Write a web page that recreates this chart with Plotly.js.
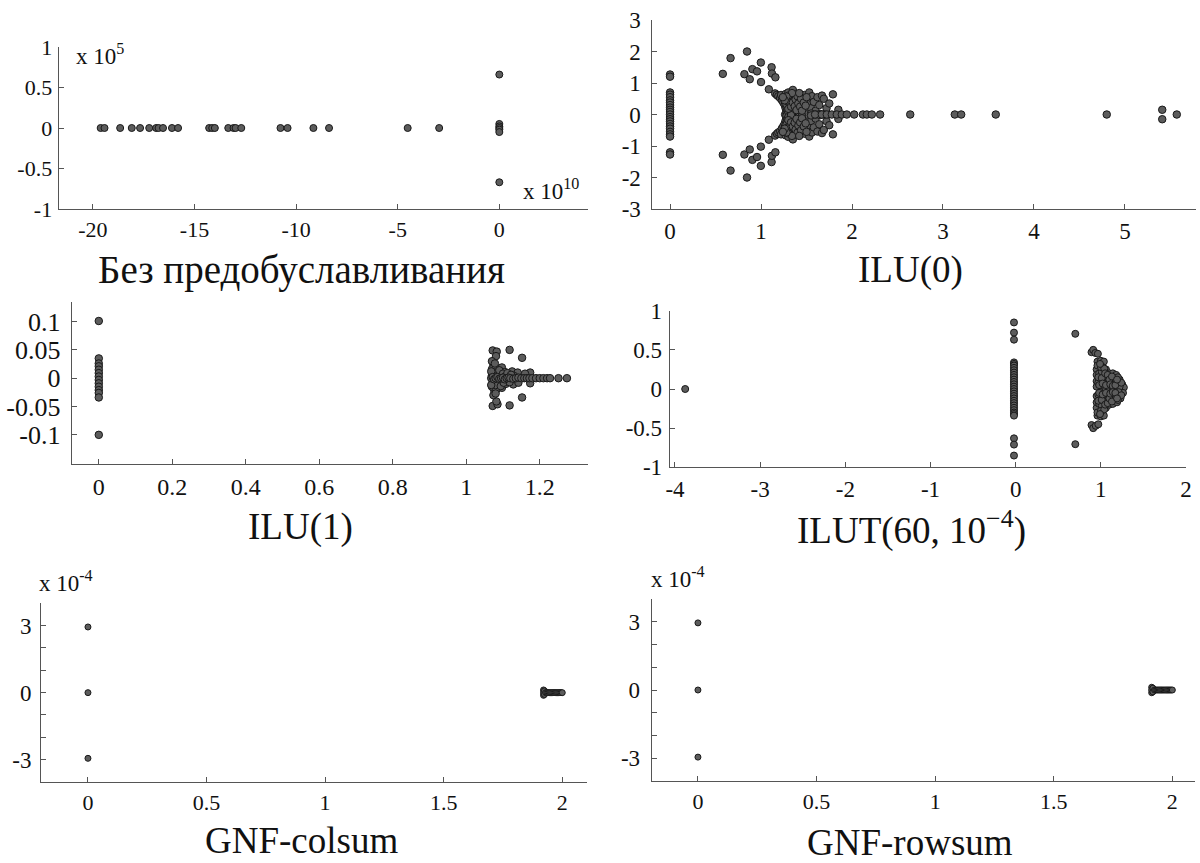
<!DOCTYPE html>
<html>
<head>
<meta charset="utf-8">
<script src="https://cdn.plot.ly/plotly-3.0.1.min.js"></script>
<style>html,body{margin:0;padding:0;background:#fff;}#chart{width:1200px;height:863px;}</style>
</head>
<body>
<div id="chart"></div>
<script>
// ---------- DATA (eigenvalue spectra: [Re, Im]) ----------
// Panel 1: no preconditioning (Re in units of 1e10, Im in units of 1e5)
const noPrecReal = [-19.62,-19.43,-18.66,-18.09,-17.68,-17.23,-16.89,-16.77,-16.55,-16.11,-15.81,-14.28,-14.13,-14.0,-13.34,-13.08,-12.98,-12.70,-10.77,-10.42,-9.15,-8.38,-4.51,-2.96,0,0,0,0,0,0,0];
const noPrecImag = [0,0,0,0,0,0,0,0,0,0,0,0,0,0,0,0,0,0,0,0,0,0,0,0,0.66,0.05,0.02,0,-0.02,-0.05,-0.67];

// Panel 2: ILU(0)
const ilu0Column = [[0,1.27],[0,1.2],[0,0.7],[0,0.63],[0,0.55],[0,0.45],[0,0.38],[0,0.3],[0,0.22],[0,0.15],[0,0.08],[0,0],[0,-0.08],[0,-0.15],[0,-0.22],[0,-0.3],[0,-0.38],[0,-0.45],[0,-0.55],[0,-0.63],[0,-0.7],[0,-1.2],[0,-1.27]];
const ilu0Wings = [[0.58,1.29],[0.665,1.79],[0.846,2.0],[0.817,1.28],[0.876,1.12],[0.905,1.44],[0.956,1.37],[0.998,1.65],[1.0,1.03],[1.116,1.5],[1.12,1.3],[1.158,1.18],[1.086,0.8],
  [0.58,-1.28],[0.665,-1.78],[0.846,-2.0],[0.817,-1.27],[0.876,-1.11],[0.905,-1.44],[0.956,-1.35],[0.998,-1.63],[0.998,-1.02],[1.116,-1.51],[1.12,-1.31],[1.158,-1.2],[1.086,-0.8]];
const ilu0Cluster = [[1.155,0.67],[1.173,0.62],[1.19,0.58],[1.21,0.52],[1.22,0.62],[1.23,0.45],[1.245,0.38],[1.25,0.55],[1.26,0.3],[1.27,0.2],[1.27,0.65],[1.28,0.1],[1.29,0.5],[1.3,0.35],[1.3,0.7],[1.31,0.22],[1.32,0.6],[1.33,0.12],[1.33,0.45],[1.34,0.3],[1.35,0.78],[1.35,0.55],[1.36,0.2],[1.37,0.4],[1.38,0.65],[1.38,0.08],[1.4,0.28],[1.41,0.5],[1.42,0.15],[1.43,0.6],[1.44,0.35],[1.46,0.45],[1.47,0.22],[1.48,0.62],[1.5,0.1],[1.51,0.5],[1.52,0.32],[1.53,0.7],[1.55,0.2],[1.56,0.58],[1.58,0.4],[1.6,0.12],[1.62,0.55],[1.64,0.3],[1.67,0.6],[1.69,0.5],[1.72,0.2],[1.79,0.64],[1.75,0.35],[1.85,0.15],
  [1.155,-0.67],[1.175,-0.61],[1.19,-0.57],[1.21,-0.53],[1.22,-0.63],[1.23,-0.44],[1.245,-0.37],[1.25,-0.56],[1.26,-0.29],[1.27,-0.19],[1.27,-0.66],[1.28,-0.11],[1.29,-0.49],[1.3,-0.34],[1.3,-0.71],[1.31,-0.23],[1.32,-0.59],[1.33,-0.13],[1.33,-0.46],[1.34,-0.31],[1.35,-0.79],[1.35,-0.54],[1.36,-0.21],[1.37,-0.41],[1.38,-0.64],[1.38,-0.07],[1.4,-0.27],[1.41,-0.51],[1.42,-0.16],[1.43,-0.61],[1.44,-0.34],[1.46,-0.46],[1.47,-0.23],[1.48,-0.61],[1.5,-0.11],[1.51,-0.49],[1.52,-0.33],[1.53,-0.7],[1.55,-0.21],[1.56,-0.57],[1.58,-0.41],[1.6,-0.13],[1.62,-0.54],[1.64,-0.31],[1.67,-0.59],[1.69,-0.49],[1.72,-0.21],[1.79,-0.63],[1.75,-0.34],[1.85,-0.14],
  [1.265,0],[1.28,0.04],[1.3,0],[1.32,0.05],[1.35,0],[1.38,0.03],[1.4,0],[1.45,0.04],[1.5,0],[1.55,0.03],[1.6,0],[1.65,0.02],[1.7,0],[1.28,-0.04],[1.32,-0.05],[1.38,-0.03],[1.45,-0.04],[1.55,-0.03],[1.65,-0.02],
  [1.28,0.25],[1.29,0.15],[1.31,0.4],[1.32,0.28],[1.34,0.18],[1.36,0.1],[1.37,0.5],[1.39,0.36],[1.4,0.2],[1.42,0.42],[1.3,0.08],[1.33,0.02],[1.36,0.33],
  [1.28,-0.25],[1.29,-0.15],[1.31,-0.4],[1.32,-0.28],[1.34,-0.18],[1.36,-0.1],[1.37,-0.5],[1.39,-0.36],[1.4,-0.2],[1.42,-0.42],[1.3,-0.08],[1.33,-0.02],[1.36,-0.33],
  [1.28,0.32],[1.29,0.42],[1.3,0.18],[1.31,0.55],[1.32,0.38],[1.33,0.25],[1.34,0.52],[1.35,0.38],[1.36,0.62],[1.37,0.26],[1.38,0.48],[1.39,0.14],[1.4,0.58],[1.41,0.35],[1.43,0.25],[1.44,0.5],[1.45,0.12],[1.47,0.38],[1.49,0.28],[1.5,0.55],[1.3,0.6],[1.34,0.68],[1.28,0.57],[1.26,0.45],[1.24,0.55],[1.42,0.68],
  [1.28,-0.32],[1.29,-0.42],[1.3,-0.18],[1.31,-0.55],[1.32,-0.38],[1.33,-0.25],[1.34,-0.52],[1.35,-0.38],[1.36,-0.62],[1.37,-0.26],[1.38,-0.48],[1.39,-0.14],[1.4,-0.58],[1.41,-0.35],[1.43,-0.25],[1.44,-0.5],[1.45,-0.12],[1.47,-0.38],[1.49,-0.28],[1.5,-0.55],[1.3,-0.6],[1.34,-0.68],[1.28,-0.57],[1.26,-0.45],[1.24,-0.55],[1.42,-0.68]];
const ilu0Tail = [[1.594,0],[1.668,0],[1.723,0],[1.778,0],[1.833,0],[1.888,0],[1.943,0],[2.024,0],[2.12,0],[2.163,0],[2.218,0],[2.309,0],[2.64,0],[3.13,0],[3.2,0],[3.58,0],[4.8,0],[5.41,0.15],[5.41,-0.15],[5.57,0]];

// Panel 3: ILU(1)
const ilu1Column = [[0,0.101],[0,0.035],[0,0.026],[0,0.021],[0,0.015],[0,0.009],[0,0.003],[0,-0.003],[0,-0.009],[0,-0.015],[0,-0.021],[0,-0.026],[0,-0.034],[0,-0.1]];
const ilu1Cluster = [[1.072,0.049],[1.083,0.047],[1.081,0.039],[1.118,0.05],[1.152,0.036],[1.074,0.023],[1.097,0.019],[1.174,0.01],[1.085,0.012],[1.105,0.011],[1.125,0.012],[1.14,0.01],[1.16,0.008],[1.075,0.008],[1.09,0.006],[1.11,0.005],[1.13,0.004],[1.07,0.016],[1.08,0.018],
  [1.072,-0.049],[1.085,-0.046],[1.082,-0.041],[1.118,-0.048],[1.152,-0.034],[1.076,-0.021],[1.097,-0.017],[1.174,-0.009],[1.088,-0.012],[1.108,-0.01],[1.128,-0.011],[1.142,-0.008],[1.075,-0.009],[1.093,-0.006],[1.115,-0.004],[1.07,-0.015],[1.082,-0.02],
  [1.07,0.005],[1.072,-0.006],[1.078,0.01],[1.08,-0.012],[1.086,0.004],[1.09,0.014],[1.094,-0.014],[1.1,0.008],[1.102,-0.008],[1.106,0.003],[1.112,0.009],[1.118,-0.007],[1.122,0.006],[1.07,0.03],[1.074,-0.03],[1.078,0.026],[1.08,-0.027],[1.068,0.012],[1.068,-0.012]];
const ilu1Tail = [[1.068,0],[1.072,0.002],[1.076,-0.002],[1.08,0],[1.085,0.002],[1.09,-0.001],[1.095,0],[1.1,0.001],[1.105,-0.002],[1.11,0],[1.115,0.001],[1.12,0],[1.128,-0.001],[1.135,0],[1.142,0.001],[1.15,0],[1.158,0],[1.165,0],[1.172,0],[1.18,0],[1.19,0],[1.2,0],[1.21,0],[1.22,0],[1.228,0],[1.251,0],[1.274,0]];

// Panel 4: ILUT(60, 1e-4)
const ilutOutliers = [[-3.88,0],[0.70,0.705],[0.70,-0.705]];
const ilutColumn = [[-0.02,0.85],[-0.02,0.72],[-0.02,0.63],[-0.02,0.34],[-0.02,0.32],[-0.02,0.3],[-0.02,0.27],[-0.02,0.24],[-0.02,0.21],[-0.02,0.18],[-0.02,0.15],[-0.02,0.12],[-0.02,0.09],[-0.02,0.06],[-0.02,0.03],[-0.02,0],[-0.02,-0.03],[-0.02,-0.06],[-0.02,-0.09],[-0.02,-0.12],[-0.02,-0.15],[-0.02,-0.18],[-0.02,-0.21],[-0.02,-0.24],[-0.02,-0.27],[-0.02,-0.3],[-0.02,-0.32],[-0.02,-0.34],[-0.02,-0.63],[-0.02,-0.71],[-0.02,-0.85]];
const ilutCluster = [[0.89,0.47],[0.91,0.5],[0.935,0.46],[0.965,0.45],[0.96,0.35],[1.0,0.36],[1.035,0.35],[0.98,0.3],[1.02,0.28],[1.06,0.25],[1.1,0.2],[1.14,0.2],[1.18,0.18],[1.22,0.12],[1.25,0.06],[1.27,0.02],[0.95,0.25],[0.95,0.18],[0.95,0.1],[0.95,0.03],[0.98,0.2],[0.99,0.12],[1.0,0.05],[1.03,0.18],[1.05,0.1],[1.07,0.15],[1.08,0.05],[1.12,0.12],[1.15,0.08],[1.18,0.1],[1.2,0.05],[1.22,0.03],[1.1,0.02],[1.04,0.02],[1.16,0.14],[1.2,0.15],[1.09,0.1],[1.01,0.22],[0.97,0.08],
  [0.89,-0.46],[0.91,-0.5],[0.94,-0.47],[0.97,-0.45],[0.96,-0.34],[1.0,-0.35],[1.035,-0.34],[0.98,-0.29],[1.02,-0.27],[1.06,-0.24],[1.1,-0.2],[1.14,-0.19],[1.19,-0.17],[1.23,-0.12],[1.26,-0.05],[0.95,-0.24],[0.95,-0.17],[0.95,-0.09],[0.98,-0.19],[0.99,-0.11],[1.0,-0.04],[1.03,-0.17],[1.05,-0.09],[1.07,-0.14],[1.08,-0.04],[1.12,-0.11],[1.15,-0.07],[1.18,-0.09],[1.21,-0.04],[1.13,-0.02],[1.06,-0.01],[1.16,-0.13],[1.2,-0.14],[1.09,-0.1],[1.01,-0.21],[0.97,-0.07],
  [0.96,0.3],[0.97,0.15],[0.98,0.05],[1.0,0.28],[1.01,0.14],[1.02,0.07],[1.04,0.26],[1.05,0.2],[1.06,0.05],[1.08,0.18],[1.1,0.12],[1.11,0.06],[1.13,0.16],[1.14,0.04],[1.17,0.05],[1.24,0.08],[1.19,0.12],[0.99,0.32],
  [0.96,-0.3],[0.97,-0.15],[0.98,-0.05],[1.0,-0.28],[1.01,-0.14],[1.02,-0.07],[1.04,-0.26],[1.05,-0.2],[1.06,-0.05],[1.08,-0.18],[1.1,-0.12],[1.11,-0.06],[1.13,-0.16],[1.14,-0.04],[1.17,-0.05],[1.24,-0.08],[1.19,-0.12],[0.99,-0.32]];

// Panel 5: GNF-colsum (Im in units of 1e-4)
const colsumPoints = [[0,2.94],[0,0],[0,-2.94],[1.921,0.12],[1.921,-0.12],[1.921,0],[1.925,0.08],[1.925,-0.08],[1.93,0],[1.935,0],[1.94,0],[1.945,0],[1.95,0],[1.955,0],[1.96,0],[1.965,0],[1.97,0],[1.975,0],[1.98,0],[1.985,0],[1.99,0],[1.995,0],[2.0,0]];
// Panel 6: GNF-rowsum (Im in units of 1e-4)
const rowsumPoints = [[0,2.95],[0,0],[0,-2.95],[1.913,0.12],[1.913,-0.12],[1.913,0],[1.918,0.08],[1.918,-0.08],[1.925,0],[1.93,0],[1.935,0],[1.94,0],[1.945,0],[1.95,0],[1.955,0],[1.96,0],[1.965,0],[1.97,0],[1.975,0],[1.98,0],[1.985,0],[1.99,0],[1.995,0],[2.0,0]];

// Titles and ticks
const panelTitles = ["Без предобуславливания","ILU(0)","ILU(1)","ILUT(60, 10<sup>−4</sup>)","GNF-colsum","GNF-rowsum"];
const xTicks = [[-20,-15,-10,-5,0],[0,1,2,3,4,5],[0,0.2,0.4,0.6,0.8,1,1.2],[-4,-3,-2,-1,0,1,2],[0,0.5,1,1.5,2],[0,0.5,1,1.5,2]];
const xTickText = [["-20","-15","-10","-5","0"],["0","1","2","3","4","5"],["0","0.2","0.4","0.6","0.8","1","1.2"],["-4","-3","-2","-1","0","1","2"],["0","0.5","1","1.5","2"],["0","0.5","1","1.5","2"]];
const yTicks = [[-1,-0.5,0,0.5,1],[-3,-2,-1,0,1,2,3],[-0.1,-0.05,0,0.05,0.1],[-1,-0.5,0,0.5,1],[-4,-3,-2,-1,0,1,2,3,4],[-4,-3,-2,-1,0,1,2,3,4]];
const yTickText = [["-1","-0.5","0","0.5","1"],["-3","-2","-1","0","1","2","3"],["-0.1","-0.05","0","0.05","0.1"],["-1","-0.5","0","0.5","1"],[" ","-3"," "," ","0"," "," ","3"," "],[" ","-3"," "," ","0"," "," ","3"," "]];
const multiplierLabels = ["x 10<sup>5</sup>","x 10<sup>10</sup>","x 10<sup>-4</sup>","x 10<sup>-4</sup>"];

// ---------- LAYOUT ----------
const W = 1200, H = 863;
const px = v => v / W, py = v => 1 - v / H;
// pixel boxes [left, right, top, bottom]
const boxes = [[58.6,587.5,47,209],[652.4,1195.9,20,209],[71.6,587.5,302.3,464.3],[669.7,1186.3,310.7,467.3],[41,586.7,603.3,782],[651.7,1195.1,599,781]];
const xRanges = [[-21.69,4.34],[-0.194,5.78],[-0.074,1.33],[-4.062,2.003],[-0.198,2.103],[-0.195,2.096]];
const yRanges = [[-1,1],[-3,3],[-0.152,0.134],[-1,1],[-4,4],[-4,4]];
const xFontSizes = [22,23,24,23,22,22];
const yFontSizes = [22,23,26,23,23,23];
const yStandoff = [1,6,5,2,4,6];

const serif = '"Liberation Serif", "Times New Roman", Times, serif';
const markerStyle = (sz) => ({size: sz, color: "rgb(92,92,92)", line: {color: "rgb(25,25,25)", width: 1}});
const xs = a => a.map(p => p[0]), ys = a => a.map(p => p[1]);

const panelData = [
  [[noPrecReal, noPrecImag]],
  [[xs(ilu0Column), ys(ilu0Column)],[xs(ilu0Wings), ys(ilu0Wings)],[xs(ilu0Cluster), ys(ilu0Cluster)],[xs(ilu0Tail), ys(ilu0Tail)]],
  [[xs(ilu1Column), ys(ilu1Column)],[xs(ilu1Cluster), ys(ilu1Cluster)],[xs(ilu1Tail), ys(ilu1Tail)]],
  [[xs(ilutOutliers), ys(ilutOutliers)],[xs(ilutColumn), ys(ilutColumn)],[xs(ilutCluster), ys(ilutCluster)]],
  [[xs(colsumPoints), ys(colsumPoints)]],
  [[xs(rowsumPoints), ys(rowsumPoints)]]
];
const markerSizes = [7,7.5,7.5,7,6,6];

const traces = [];
panelData.forEach((sets, i) => {
  const sfx = i === 0 ? "" : String(i + 1);
  sets.forEach(([x, y]) => {
    traces.push({type: "scatter", mode: "markers", x: x, y: y, xaxis: "x" + sfx, yaxis: "y" + sfx,
      marker: markerStyle(markerSizes[i]), hoverinfo: "skip", cliponaxis: false});
  });
});

const layout = {width: W, height: H, margin: {l: 0, r: 0, t: 0, b: 0}, paper_bgcolor: "#fff", plot_bgcolor: "rgba(0,0,0,0)", showlegend: false, annotations: [],
  font: {family: serif, color: "#111"}};
boxes.forEach((b, i) => {
  const sfx = i === 0 ? "" : String(i + 1);
  const common = {showline: true, linecolor: "#555", linewidth: 1, ticks: "inside", ticklen: 5, tickcolor: "#555", tickwidth: 1,
    showgrid: false, zeroline: false, tickmode: "array", fixedrange: true};
  layout["xaxis" + sfx] = Object.assign({}, common, {domain: [px(b[0]), px(b[1])], range: xRanges[i], anchor: "y" + sfx,
    tickvals: xTicks[i], ticktext: xTickText[i], ticklabelstandoff: 1, tickfont: {family: serif, size: xFontSizes[i], color: "#111"}});
  layout["yaxis" + sfx] = Object.assign({}, common, {domain: [py(b[3]), py(b[2])], range: yRanges[i], anchor: "x" + sfx,
    tickvals: yTicks[i], ticktext: yTickText[i], ticklabelstandoff: yStandoff[i], tickfont: {family: serif, size: yFontSizes[i], color: "#111"}});
});

// panel titles (pixel centres) and sizes
const titlePos = [[301,270],[910,270],[300.5,527],[911,528],[301.5,840],[910,842]];
const titleSizes = [39,37,37,37,37,37];
panelTitles.forEach((t, i) => {
  layout.annotations.push({text: t, xref: "paper", yref: "paper", x: px(titlePos[i][0]), y: py(titlePos[i][1]),
    xanchor: "center", yanchor: "middle", showarrow: false, font: {family: serif, size: titleSizes[i], color: "#111"}});
});
// exponent multipliers
const multPos = [[74,55],[521,189],[37,581],[649,577]];
multiplierLabels.forEach((t, i) => {
  layout.annotations.push({text: t, xref: "paper", yref: "paper", x: px(multPos[i][0]), y: py(multPos[i][1]),
    xanchor: "left", yanchor: "middle", showarrow: false, font: {family: serif, size: 23, color: "#111"}});
});

Plotly.newPlot("chart", traces, layout, {staticPlot: true, displayModeBar: false});
</script>
</body>
</html>
